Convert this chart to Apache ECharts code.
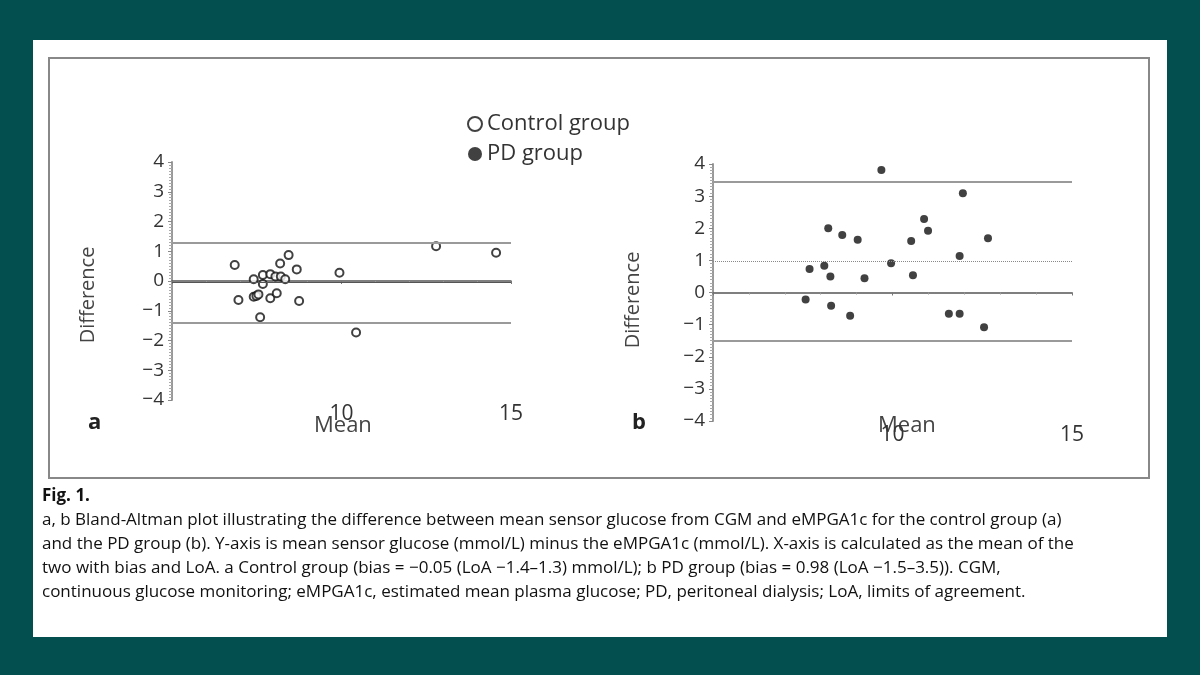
<!DOCTYPE html>
<html>
<head>
<meta charset="utf-8">
<script src="https://cdn.jsdelivr.net/npm/echarts@6/dist/echarts.min.js"></script>
<style>
html,body{margin:0;padding:0;background:#034f50;}
#chart{width:1200px;height:675px;}
</style>
</head>
<body>
<div id="chart"></div>
<script>
// control group points [mean, difference]
var controlPoints = [
    [6.85,0.54],[6.96,-0.64],[7.41,0.06],[7.41,-0.53],[7.49,-0.50],[7.55,-0.45],
    [7.60,-1.22],[7.68,0.20],[7.68,-0.10],[7.90,0.23],[7.90,-0.58],[8.05,0.15],
    [8.09,-0.41],[8.19,0.59],[8.21,0.15],[8.34,0.06],[8.44,0.87],[8.68,0.39],
    [8.75,-0.67],[9.94,0.28],[10.43,-1.73],[12.79,1.17],[14.56,0.95]
];
// PD group points
var pdPoints = [
    [7.58,-0.22],[7.69,0.73],[8.10,0.83],[8.27,0.50],[8.21,2.00],[8.29,-0.41],
    [8.60,1.79],[8.82,-0.72],[9.03,1.64],[9.22,0.44],[9.69,3.81],[9.96,0.91],
    [10.52,1.60],[10.57,0.54],[10.88,2.29],[10.99,1.92],[11.57,-0.66],[11.87,-0.66],
    [11.87,1.14],[11.96,3.09],[12.55,-1.08],[12.66,1.69]
];
// bias and limits of agreement
var controlLines = [1.3, -0.05, -1.4];
var pdLines = [3.45, 0.98, -1.5];
var yTicks = [-4,-3,-2,-1,0,1,2,3,4];
var xLabels = [10, 15];

var captionLines = [
    'a, b Bland-Altman plot illustrating the difference between mean sensor glucose from CGM and eMPGA1c for the control group (a)',
    'and the PD group (b). Y-axis is mean sensor glucose (mmol/L) minus the eMPGA1c (mmol/L). X-axis is calculated as the mean of the',
    'two with bias and LoA. a Control group (bias = \u22120.05 (LoA \u22121.4\u20131.3) mmol/L); b PD group (bias = 0.98 (LoA \u22121.5\u20133.5)). CGM,',
    'continuous glucose monitoring; eMPGA1c, estimated mean plasma glucose; PD, peritoneal dialysis; LoA, limits of agreement.'
];

var font = '"Open Sans", "DejaVu Sans", sans-serif';
var chart = echarts.init(document.getElementById('chart'));

function xAxis(idx){
    return {
        gridIndex: idx, type: 'value', min: 5, max: 15, interval: 5,
        axisLine: {onZero: true, lineStyle: {color: '#555', width: 1.5}},
        axisTick: {show: true, length: 3, lineStyle: {color: '#777'}},
        minorTick: {show: true, splitNumber: 5, length: 2, lineStyle: {color: '#999'}},
        splitLine: {show: false},
        axisLabel: {
            color: '#333', fontSize: 21, fontFamily: font, margin: 4,
            formatter: function(v){ return xLabels.indexOf(v) >= 0 ? v : ''; }
        }
    };
}
function yAxis(idx){
    return {
        gridIndex: idx, type: 'value', min: -4, max: 4, interval: 1,
        axisLine: {show: true, lineStyle: {color: '#999', width: 2}},
        axisTick: {show: true, length: 4, lineStyle: {color: '#888'}},
        minorTick: {show: true, splitNumber: 10, length: 3, lineStyle: {color: '#aaa'}},
        splitLine: {show: false},
        axisLabel: {
            color: '#333', fontSize: 19, fontFamily: font, margin: 8,
            formatter: function(v){ return yTicks.indexOf(v) >= 0 ? String(v).replace('-', '\u2212') : ''; }
        }
    };
}
function refLines(vals, dotted){
    return {
        silent: true, symbol: 'none', label: {show: false},
        data: vals.map(function(v, i){
            var mid = i === 1;
            return {
                yAxis: v,
                lineStyle: {
                    color: mid ? (dotted ? '#888' : '#555') : '#9a9a9a',
                    width: mid ? 1 : 2,
                    type: (mid && dotted) ? 'dotted' : 'solid'
                }
            };
        })
    };
}

var texts = [
    {type: 'rect', shape: {x: 33, y: 40, width: 1134, height: 597}, style: {fill: '#fff'}},
    {type: 'rect', shape: {x: 49, y: 58, width: 1100, height: 420}, style: {fill: 'none', stroke: '#888', lineWidth: 2}},
    {type: 'text', left: 314, top: 415, style: {text: 'Mean', font: '22px ' + font, fill: '#444'}},
    {type: 'text', left: 878, top: 415, style: {text: 'Mean', font: '22px ' + font, fill: '#444'}},
    {type: 'text', x: 88, y: 295, rotation: Math.PI / 2, style: {text: 'Difference', font: '20px ' + font, fill: '#444', textAlign: 'center', textVerticalAlign: 'middle'}},
    {type: 'text', x: 633, y: 300, rotation: Math.PI / 2, style: {text: 'Difference', font: '20px ' + font, fill: '#444', textAlign: 'center', textVerticalAlign: 'middle'}},
    {type: 'text', left: 88, top: 412, style: {text: 'a', font: 'bold 22px ' + font, fill: '#222'}},
    {type: 'text', left: 632, top: 412, style: {text: 'b', font: 'bold 22px ' + font, fill: '#222'}},
    {type: 'text', left: 42, top: 488, style: {text: 'Fig. 1.', font: 'bold 17px ' + font, fill: '#111'}}
];
captionLines.forEach(function(t, i){
    texts.push({type: 'text', left: 42, top: 512 + i * 24, style: {text: t, font: '17px ' + font, fill: '#111'}});
});

chart.setOption({
    animation: false,
    backgroundColor: 'transparent',
    graphic: texts,
    legend: {
        left: 462, top: 108, orient: 'vertical', itemGap: 8, itemWidth: 14, itemHeight: 14,
        textStyle: {fontSize: 22, color: '#333', fontFamily: font},
        data: [
            {name: 'Control group', icon: 'circle', itemStyle: {color: '#fff', borderColor: '#111', borderWidth: 2}},
            {name: 'PD group', icon: 'circle', itemStyle: {color: '#111'}}
        ]
    },
    grid: [
        {left: 172, top: 162, width: 339, height: 238},
        {left: 713, top: 164, width: 359, height: 257}
    ],
    xAxis: [xAxis(0), xAxis(1)],
    yAxis: [yAxis(0), yAxis(1)],
    series: [
        {
            name: 'Control group', type: 'scatter', xAxisIndex: 0, yAxisIndex: 0,
            symbol: 'circle', symbolSize: 8,
            itemStyle: {color: '#fff', borderColor: '#111', borderWidth: 2},
            data: controlPoints, markLine: refLines(controlLines, false)
        },
        {
            name: 'PD group', type: 'scatter', xAxisIndex: 1, yAxisIndex: 1,
            symbol: 'circle', symbolSize: 8,
            itemStyle: {color: '#111'},
            data: pdPoints, markLine: refLines(pdLines, true)
        }
    ]
});
</script>
</body>
</html>
